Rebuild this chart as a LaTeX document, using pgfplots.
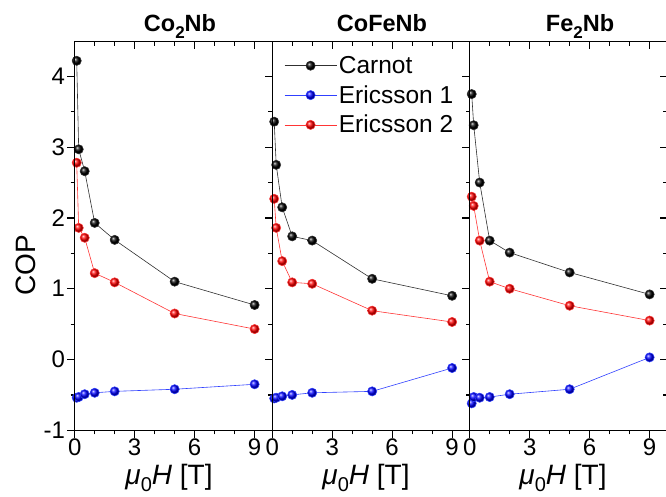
\documentclass[border=0pt]{standalone}
\usepackage{fontspec}
\setmainfont{Liberation Sans}
\usepackage{pgfplots}
\usepackage{pgfplotstable}
\pgfplotsset{compat=1.18}

\definecolor{cline}{HTML}{303030}
\definecolor{bline}{HTML}{3040FF}
\definecolor{rline}{HTML}{FF3535}

\pgfplotstableread{
x   carnot  eone  etwo
0.1 4.22 -0.54 2.78
0.2 2.97 -0.53 1.86
0.5 2.66 -0.49 1.72
1   1.93 -0.47 1.22
2   1.69 -0.45 1.09
5   1.10 -0.42 0.65
9   0.77 -0.35 0.43
}\coNb
\pgfplotstableread{
x   carnot  eone  etwo
0.1 3.36 -0.55 2.27
0.2 2.75 -0.54 1.86
0.5 2.15 -0.52 1.39
1   1.74 -0.50 1.09
2   1.68 -0.47 1.07
5   1.14 -0.45 0.69
9   0.90 -0.12 0.53
}\cofeNb
\pgfplotstableread{
x   carnot  eone  etwo
0.1 3.75 -0.62 2.30
0.2 3.31 -0.53 2.17
0.5 2.50 -0.54 1.68
1   1.68 -0.53 1.10
2   1.51 -0.49 1.00
5   1.23 -0.42 0.76
9   0.92  0.03 0.55
}\feNb

\pgfplotsset{
  panel/.style={
    scale only axis, width=197.5pt, height=388.6pt,
    xmin=0, xmax=9.88, ymin=-1, ymax=4.49,
    clip=false,
    axis line style={line width=1.2pt, black},
    every tick/.style={line width=1.2pt, black},
    major tick length=7.5pt, minor tick length=4pt,
    xtick={0,3,6,9}, minor x tick num=2,
    ytick={-1,0,1,2,3,4}, minor y tick num=1,
    /pgf/number format/assume math mode=true,
    tick label style={font=\fontsize{24}{28}\selectfont},
  },
  base/.style={panel, xtick pos=bottom, tick align=outside,
    xticklabel style={inner sep=1pt, yshift=0pt}},
  over/.style={panel, xtick pos=top, ytick pos=right, tick align=inside,
    xticklabels={}, yticklabels={}},
  carnot/.style={cline, line width=0.6pt, mark=ball, mark size=4.6pt, mark options={ball color=black}},
  eone/.style={bline, line width=0.6pt, mark=ball, mark size=4.6pt, mark options={ball color=blue}},
  etwo/.style={rline, line width=0.6pt, mark=ball, mark size=4.6pt, mark options={ball color=red}},
}

\begin{document}
\begin{tikzpicture}[x=1pt,y=1pt]
\useasboundingbox (0,0) rectangle (666,497);

% Panel 1
\begin{axis}[base, at={(74.7pt,66.7pt)}, anchor=south west,
  ytick pos=left, yticklabels={-1,0,1,2,3,4},
  yticklabel style={inner sep=2pt}]
  \addplot[carnot] table[x=x,y=carnot] {\coNb};
  \addplot[eone] table[x=x,y=eone] {\coNb};
  \addplot[etwo] table[x=x,y=etwo] {\coNb};
\end{axis}
\begin{axis}[over, at={(74.7pt,66.7pt)}, anchor=south west]
\end{axis}

% Panel 2
\begin{axis}[base, at={(272.2pt,66.7pt)}, anchor=south west,
  ytick=\empty,
  legend cell align=left,
  legend style={draw=none, fill=none, at={(0.045,0.973)}, anchor=north west,
    font=\fontsize{24.5}{28}\selectfont, row sep=6.5pt,
    /tikz/every even column/.append style={column sep=0pt}},
  legend image code/.code={\draw[mark repeat=2,mark phase=2] plot coordinates {(0pt,0pt) (26pt,0pt) (52pt,0pt)};}]
  \addplot[carnot] table[x=x,y=carnot] {\cofeNb};
  \addlegendentry{Carnot}
  \addplot[eone] table[x=x,y=eone] {\cofeNb};
  \addlegendentry{Ericsson 1}
  \addplot[etwo] table[x=x,y=etwo] {\cofeNb};
  \addlegendentry{Ericsson 2}
\end{axis}
\begin{axis}[over, at={(272.2pt,66.7pt)}, anchor=south west]
\end{axis}

% Panel 3
\begin{axis}[base, at={(469.7pt,66.7pt)}, anchor=south west,
  ytick=\empty]
  \addplot[carnot] table[x=x,y=carnot] {\feNb};
  \addplot[eone] table[x=x,y=eone] {\feNb};
  \addplot[etwo] table[x=x,y=etwo] {\feNb};
\end{axis}
\begin{axis}[over, at={(469.7pt,66.7pt)}, anchor=south west]
\end{axis}

% Titles
\newcommand{\ttl}{\fontsize{23.5}{27}\selectfont\bfseries}
\node[anchor=base] at (180,465.3) {\ttl Co\raisebox{-0.3em}{\fontsize{17}{19}\selectfont 2}Nb};
\node[anchor=base] at (382,465.3) {\ttl CoFeNb};
\node[anchor=base] at (580,465.3) {\ttl Fe\raisebox{-0.3em}{\fontsize{17}{19}\selectfont 2}Nb};

% Axis labels
\newcommand{\xl}{\fontsize{28}{32}\selectfont\textit{μ}\raisebox{-0.22em}{\fontsize{20}{22}\selectfont 0}\textit{H} [T]}
\node[anchor=base] at (169,12) {\xl};
\node[anchor=base] at (366,12) {\xl};
\node[anchor=base] at (563,12) {\xl};
\node[rotate=90] at (26,232) {\fontsize{28}{32}\selectfont COP};
\end{tikzpicture}
\end{document}
